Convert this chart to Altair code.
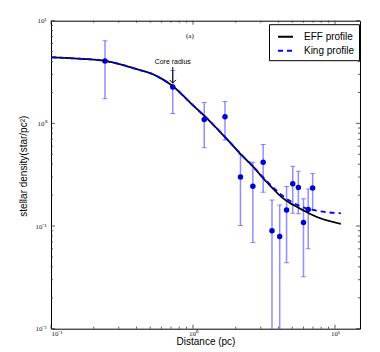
import altair as alt
import pandas as pd

# ---- data ----
r = [0.24, 0.72, 1.20, 1.68, 2.16, 2.64, 3.12, 3.60, 4.08, 4.56, 5.04, 5.52, 6.00, 6.48, 6.96]
dens = [4.06, 2.26, 1.09, 1.16, 0.301, 0.244, 0.418, 0.090, 0.079, 0.143, 0.258, 0.237, 0.108, 0.145, 0.235]
err = [2.32, 1.01, 0.51, 0.47, 0.20, 0.175, 0.205, 0.089, 0.081, 0.099, 0.125, 0.105, 0.076, 0.085, 0.09]

eff_r = [0.10, 0.15, 0.24, 0.424, 0.50, 0.726, 1.00, 1.22, 1.71, 2.26, 2.52, 3.30, 4.32, 5.67, 7.43, 11.0]
eff_y = [4.40, 4.28, 4.06, 3.30, 3.08, 2.28, 1.50, 1.16, 0.716, 0.472, 0.407, 0.269, 0.186, 0.148, 0.123, 0.105]
king_r = [0.10, 0.15, 0.24, 0.424, 0.50, 0.726, 1.00, 1.22, 1.71, 2.26, 2.52, 3.30, 4.32, 5.67, 7.43, 11.0]
king_y = [4.40, 4.28, 4.06, 3.30, 3.08, 2.28, 1.50, 1.16, 0.72, 0.475, 0.41, 0.275, 0.195, 0.156, 0.141, 0.133]

x_major = [0.1, 1, 10]
x_minor = [0.2, 0.3, 0.4, 0.5, 0.6, 0.7, 0.8, 0.9, 2, 3, 4, 5, 6, 7, 8, 9]
y_major = [0.01, 0.1, 1, 10]
y_minor = [0.02, 0.03, 0.04, 0.05, 0.06, 0.07, 0.08, 0.09,
           0.2, 0.3, 0.4, 0.5, 0.6, 0.7, 0.8, 0.9,
           2, 3, 4, 5, 6, 7, 8, 9]

W, H = 309, 308

pts = pd.DataFrame({
    "r": r, "d": dens,
    "lo": [max(v - e, 1e-4) for v, e in zip(dens, err)],
    "hi": [v + e for v, e in zip(dens, err)],
})
curves = pd.DataFrame({
    "r": eff_r + king_r,
    "d": eff_y + king_y,
    "model": ["EFF profile"] * len(eff_r) + ["King profile"] * len(king_r),
})

xscale = alt.Scale(type="log", domain=[0.1, 15], nice=False)
yscale = alt.Scale(type="log", domain=[0.01, 10], nice=False)

xaxis = alt.Axis(values=x_major, title="Distance (pc)", grid=False, ticks=False, domain=False,
                 labelExpr="datum.value < 0.5 ? '10⁻¹' : (datum.value < 5 ? '10⁰' : '10¹')",
                 labelPadding=0.5, titleBaseline="alphabetic", titleY=16.3)
yaxis = alt.Axis(values=y_major, title="stellar density(star/pc²)", grid=False, ticks=False, domain=False,
                 labelExpr="datum.value < 0.05 ? '10⁻²' : (datum.value < 0.5 ? '10⁻¹' : (datum.value < 5 ? '10⁰' : '10¹'))",
                 labelPadding=5, titleBaseline="alphabetic", titleX=-25, titleY=145, titleAlign="center")


def X(f, **kw):
    return alt.X(f, type="quantitative", scale=xscale, axis=xaxis, **kw)


def Y(f, **kw):
    return alt.Y(f, type="quantitative", scale=yscale, axis=yaxis, **kw)


base = alt.Chart(pts)

err_rule = base.mark_rule(color="#3333ff", opacity=0.55, strokeWidth=1.5, clip=True).encode(
    x=X("r"), y=Y("lo"), y2="hi")
cap_hi = base.mark_tick(color="#3333ff", opacity=0.55, size=5, thickness=1, orient="horizontal", clip=True).encode(
    x=X("r"), y=Y("hi"))
cap_lo = base.mark_tick(color="#3333ff", opacity=0.55, size=5, thickness=1, orient="horizontal", clip=True).encode(
    x=X("r"), y=Y("lo"))
dots = base.mark_circle(color="#0000cc", opacity=1, size=30).encode(x=X("r"), y=Y("d"))

leg = alt.Legend(title=None, orient="none", legendX=218, legendY=3.5,
                 symbolType="stroke", symbolSize=225, symbolStrokeWidth=2,
                 symbolOffset=4, labelOffset=10, padding=4, rowPadding=0,
                 labelFont="Liberation Sans", labelFontSize=10, labelColor="black",
                 strokeColor="black", fillColor="white", cornerRadius=0)
lines = alt.Chart(curves).mark_line(strokeWidth=1.8, interpolate="monotone").encode(
    x=X("r"), y=Y("d"),
    color=alt.Color("model:N", scale=alt.Scale(domain=["EFF profile", "King profile"],
                                               range=["black", "#0000ff"]), legend=leg),
    strokeDash=alt.StrokeDash("model:N", scale=alt.Scale(domain=["EFF profile", "King profile"],
                                                         range=[[1, 0], [5, 4]]), legend=leg),
)

ann = pd.DataFrame({"r": [0.72], "top": [3.53], "tip": [2.47], "ty": [3.97], "label": ["Core radius"]})
arrow_line = alt.Chart(ann).mark_rule(color="black", strokeWidth=1).encode(x=X("r"), y=Y("top"), y2="tip")
arrow_head = alt.Chart(ann).mark_point(shape="M -1 -1 L 0 0 L 1 -1", filled=False, color="black",
                                       size=40, strokeWidth=1, opacity=1).encode(x=X("r"), y=Y("tip"))
arrow_text = alt.Chart(ann).mark_text(font="Liberation Sans", fontSize=7, color="black").encode(
    x=X("r"), y=Y("ty"), text="label:N")
panel = pd.DataFrame({"r": [0.95], "d": [7.07], "label": ["(a)"]})
panel_text = alt.Chart(panel).mark_text(font="Liberation Serif", fontSize=7, color="black").encode(
    x=X("r"), y=Y("d"), text="label:N")


# inward tick marks on all four sides
def xticks(vals, ln):
    df = pd.DataFrame({"v": vals})
    c = alt.Chart(df)
    bot = c.mark_rule(color="#333", strokeWidth=0.8).encode(x=X("v"), y=alt.value(H), y2=alt.value(H - ln))
    top = c.mark_rule(color="#333", strokeWidth=0.8).encode(x=X("v"), y=alt.value(0), y2=alt.value(ln))
    return [bot, top]


def yticks(vals, ln):
    df = pd.DataFrame({"v": vals})
    c = alt.Chart(df)
    left = c.mark_rule(color="#333", strokeWidth=0.8).encode(y=Y("v"), x=alt.value(0), x2=alt.value(ln))
    right = c.mark_rule(color="#333", strokeWidth=0.8).encode(y=Y("v"), x=alt.value(W), x2=alt.value(W - ln))
    return [left, right]


tick_layers = xticks(x_major, 4) + xticks(x_minor, 2) + yticks(y_major, 4) + yticks(y_minor, 2)

chart = alt.layer(
    *tick_layers, err_rule, cap_hi, cap_lo, dots, lines,
    arrow_line, arrow_head, arrow_text, panel_text
).properties(
    width=W, height=H,
    background="white",
    autosize=alt.AutoSizeParams(type="none"),
    padding={"left": 43, "top": 12.7, "right": 12, "bottom": 18},
).configure_view(
    stroke="black", strokeWidth=1
).configure_axis(
    ticks=False, domain=False, grid=False,
    labelFont="Liberation Serif", labelFontSize=7, labelColor="#222",
    titleFont="Liberation Sans", titleFontSize=10, titleFontWeight="normal", titleColor="black",
)

chart.save("out.html", embed_options={"renderer": "svg", "actions": False})
